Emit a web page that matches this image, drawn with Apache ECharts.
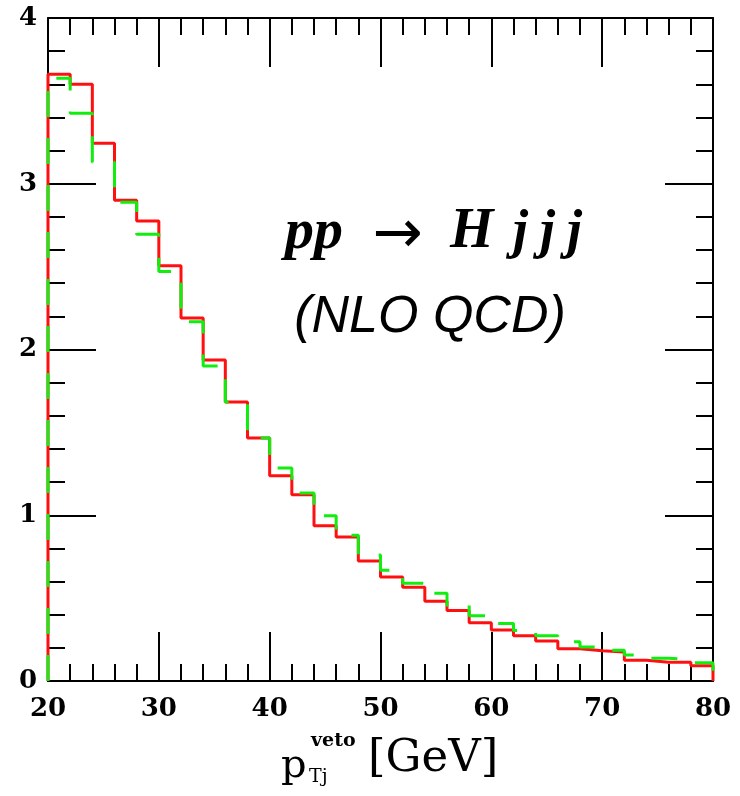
<!DOCTYPE html>
<html>
<head>
<meta charset="utf-8">
<script src="https://cdn.jsdelivr.net/npm/echarts@6/dist/echarts.min.js"></script>
<style>
html,body{margin:0;padding:0;background:#fff;}
#chart{width:740px;height:796px;}
</style>
</head>
<body>
<div id="chart"></div>
<script>
// bin left edges (GeV), bin width 2
var binLeft = [20,22,24,26,28,30,32,34,36,38,40,42,44,46,48,50,52,54,56,58,60,62,64,66,68,70,72,74,76,78];
var xEnd = 80;
// red solid histogram
var redVals = [3.66,3.60,3.245,2.90,2.775,2.505,2.19,1.937,1.683,1.466,1.239,1.124,0.937,0.869,0.724,0.627,0.565,0.481,0.426,0.352,0.308,0.273,0.241,0.195,0.183,0.175,0.125,0.113,0.113,0.092];
// green dashed histogram
var greenVals = [3.636,3.425,3.13,2.888,2.695,2.47,2.168,1.90,1.683,1.466,1.285,1.134,0.997,0.88,0.76,0.668,0.589,0.529,0.457,0.394,0.347,0.304,0.273,0.237,0.205,0.185,0.157,0.137,0.131,0.11];
var xTicks = [20,30,40,50,60,70,80];
var yTicks = [0,1,2,3,4];

function histPoints(vals){
  var pts = [[binLeft[0], 0]];
  for (var i=0;i<binLeft.length;i++) pts.push([binLeft[i], vals[i]]);
  pts.push([xEnd, vals[vals.length-1]]);
  pts.push([xEnd, 0]);
  return pts;
}

var chart = echarts.init(document.getElementById('chart'), null, {renderer:'canvas'});
var axisCol = '#000';
var labelFont = {color:'#000', fontFamily:'DejaVu Serif', fontSize:26, fontWeight:'bold'};
function xAx(pos, showLabel){
  return {
    type:'value', position:pos, min:xTicks[0], max:xTicks[xTicks.length-1], interval:10,
    axisLine:{show:true, onZero:false, lineStyle:{color:axisCol, width:2}},
    axisTick:{show:true, inside:true, length:49, lineStyle:{color:axisCol, width:2}},
    minorTick:{show:true, splitNumber:5, length:17, lineStyle:{color:axisCol, width:2}},
    splitLine:{show:false},
    axisLabel:Object.assign({show:showLabel, margin:15}, labelFont)
  };
}
function yAx(pos, showLabel){
  return {
    type:'value', position:pos, min:yTicks[0], max:yTicks[yTicks.length-1], interval:1,
    axisLine:{show:true, onZero:false, lineStyle:{color:axisCol, width:2}},
    axisTick:{show:true, inside:true, length:48, lineStyle:{color:axisCol, width:2}},
    minorTick:{show:true, splitNumber:5, length:17, lineStyle:{color:axisCol, width:2}},
    splitLine:{show:false},
    axisLabel:Object.assign({show:showLabel, margin:11}, labelFont)
  };
}

function txt(s, x, y, font, align){
  return {type:'text', x:x, y:y, z:10, style:{text:s, align:align||'left', verticalAlign:'middle', font:font, fill:'#000'}};
}

chart.setOption({
  animation:false,
  backgroundColor:'#fff',
  grid:{left:48, right:27, top:18, bottom:115, containLabel:false},
  xAxis:[xAx('bottom', true), xAx('top', false)],
  yAxis:[yAx('left', true), yAx('right', false)],
  series:[
    {type:'line', xAxisIndex:0, yAxisIndex:0, step:'end', symbol:'none', clip:false, z:5,
     data:histPoints(redVals), lineStyle:{color:'#ff1010', width:3}},
    {type:'line', xAxisIndex:0, yAxisIndex:0, step:'end', symbol:'none', clip:false, z:6,
     data:histPoints(greenVals), lineStyle:{color:'#10ee10', width:3, type:[26,21]}}
  ],
  graphic:[
    txt('pp', 285, 233, 'italic bold 58px "Liberation Serif"'),
    txt('→', 398, 236, '60px "DejaVu Sans"', 'center'),
    txt('H', 450, 233, 'italic bold 56px "Liberation Serif"'),
    txt('j', 513, 233, 'italic bold 54px "Liberation Serif"'),
    txt('j', 540, 233, 'italic bold 54px "Liberation Serif"'),
    txt('j', 567, 233, 'italic bold 54px "Liberation Serif"'),
    txt('(NLO QCD)', 430, 318, 'italic 52px "Liberation Sans"', 'center'),
    txt('p', 281, 767, '40px "DejaVu Serif"'),
    txt('veto', 311, 741, 'bold 19px "DejaVu Serif"'),
    txt('Tj', 309, 777, '19px "DejaVu Serif"'),
    txt('[GeV]', 368, 759, '45px "DejaVu Serif"')
  ]
});
</script>
</body>
</html>
